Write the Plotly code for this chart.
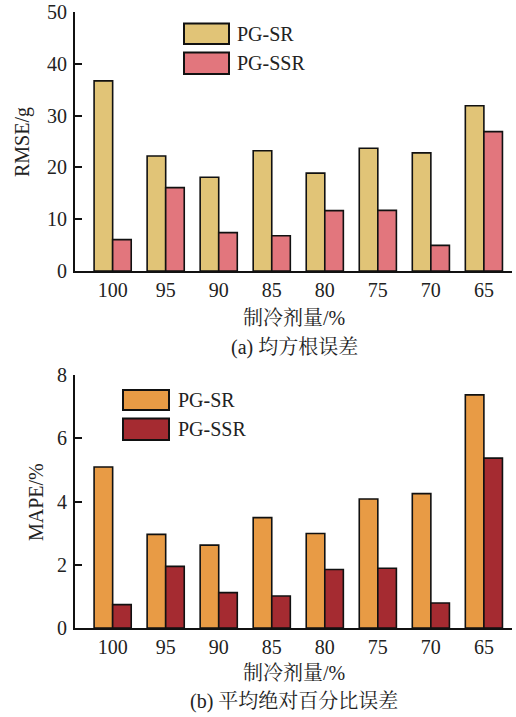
import plotly.graph_objects as go

categories = ["100", "95", "90", "85", "80", "75", "70", "65"]
rmse_sr = [36.7, 22.2, 18.1, 23.2, 18.9, 23.7, 22.8, 31.9]
rmse_ssr = [6.05, 16.1, 7.4, 6.8, 11.65, 11.7, 4.95, 26.9]
mape_sr = [5.09, 2.96, 2.62, 3.49, 2.99, 4.08, 4.25, 7.37]
mape_ssr = [0.74, 1.95, 1.12, 1.01, 1.85, 1.89, 0.79, 5.37]
series_names = ["PG-SR", "PG-SSR"]
x_title = "制冷剂量/%"
caption_a = "(a) 均方根误差"
caption_b = "(b) 平均绝对百分比误差"

W, H = 516, 717
FONT = "Liberation Serif, Times New Roman, Noto Serif CJK SC, Noto Sans CJK SC, serif"
C_SR_A, C_SSR_A = "#E1C477", "#E2767D"
C_SR_B, C_SSR_B = "#E89B45", "#A52B31"

def px(x):
    return x / W

def py(y):
    return 1 - y / H

fig = go.Figure()
for vals, name, color, xa, ya in [
    (rmse_sr, series_names[0], C_SR_A, "x", "y"),
    (rmse_ssr, series_names[1], C_SSR_A, "x", "y"),
    (mape_sr, series_names[0], C_SR_B, "x2", "y2"),
    (mape_ssr, series_names[1], C_SSR_B, "x2", "y2"),
]:
    fig.add_trace(go.Bar(
        x=categories, y=vals, name=name, xaxis=xa, yaxis=ya,
        marker=dict(color=color, line=dict(color="#111111", width=1.6)),
        showlegend=False,
    ))

axis_common = dict(showline=True, linecolor="#111111", linewidth=2, showgrid=False,
                   zeroline=False, automargin=False,
                   tickfont=dict(family=FONT, size=20, color="#222222"))
xdom = [px(75), px(512)]
fig.update_layout(
    template="none",
    width=W, height=H, margin=dict(l=0, r=0, t=0, b=0, autoexpand=False),
    paper_bgcolor="white", plot_bgcolor="white",
    barmode="group", bargap=0.3, bargroupgap=0,
    font=dict(family=FONT, size=20, color="#222222"),
    xaxis=dict(domain=xdom, anchor="y", type="category", range=[-0.71, 7.53],
               ticks="", ticklabelstandoff=0, **axis_common),
    yaxis=dict(domain=[py(271), py(12)], anchor="x", range=[0, 50], dtick=10,
               ticks="inside", ticklen=7, tickwidth=2, tickcolor="#111111",
               ticklabelstandoff=2, **axis_common),
    xaxis2=dict(domain=xdom, anchor="y2", type="category", range=[-0.71, 7.53],
                ticks="", ticklabelstandoff=0, **axis_common),
    yaxis2=dict(domain=[py(628), py(375)], anchor="x2", range=[0, 8], dtick=2,
                ticks="inside", ticklen=7, tickwidth=2, tickcolor="#111111",
                ticklabelstandoff=2, **axis_common),
)

ann = []
def text(x, y, s, angle=0, xanchor="center"):
    ann.append(dict(x=px(x), y=py(y), xref="paper", yref="paper", text=s,
                    showarrow=False, textangle=angle, xanchor=xanchor, yanchor="middle",
                    font=dict(family=FONT, size=20, color="#222222")))

text(23, 142, "RMSE/g", -90)
text(36, 502, "MAPE/%", -90)
text(294, 318, x_title)
text(294, 348, caption_a)
text(294, 673, x_title)
text(294, 701, caption_b)

shapes = []
def legend_item(x0, x1, y0, y1, color, label, tx):
    shapes.append(dict(type="rect", xref="paper", yref="paper",
                       x0=px(x0), x1=px(x1), y0=py(y1), y1=py(y0),
                       fillcolor=color, line=dict(color="#111111", width=2)))
    text(tx, (y0 + y1) / 2, label, xanchor="left")

legend_item(184, 229, 23.5, 44, C_SR_A, series_names[0], 235)
legend_item(184, 229, 52.5, 74, C_SSR_A, series_names[1], 235)
legend_item(123, 169, 390, 410, C_SR_B, series_names[0], 176)
legend_item(123, 169, 418.5, 440, C_SSR_B, series_names[1], 176)

fig.update_layout(annotations=ann, shapes=shapes)

post = (
    "document.documentElement.style.margin='0';"
    "document.body.style.margin='0';"
    "document.body.style.overflow='hidden';"
    "var gd=document.getElementById('{plot_id}');"
    "gd.style.position='absolute';gd.style.left='0px';gd.style.top='0px';"
)
fig.write_html("out.html", post_script=post, config={"displayModeBar": False})
